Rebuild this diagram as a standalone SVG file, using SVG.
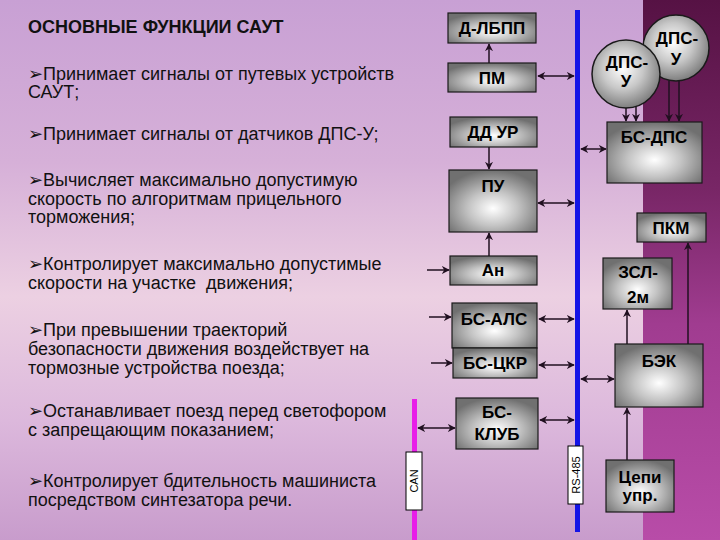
<svg xmlns="http://www.w3.org/2000/svg" width="720" height="540" viewBox="0 0 720 540">
<defs>
<linearGradient id="bg" x1="0" y1="0" x2="0" y2="1">
<stop offset="0" stop-color="#c8a0d4"/>
<stop offset="0.3" stop-color="#d6b0d8"/>
<stop offset="0.55" stop-color="#ecd0e2"/>
<stop offset="0.78" stop-color="#dcb8dc"/>
<stop offset="1" stop-color="#c89ccc"/>
</linearGradient>
<linearGradient id="strip" x1="0" y1="0" x2="0" y2="1">
<stop offset="0" stop-color="#561244"/>
<stop offset="0.35" stop-color="#782666"/>
<stop offset="0.6" stop-color="#a03c90"/>
<stop offset="1" stop-color="#b84ca8"/>
</linearGradient>
<radialGradient id="boxg" cx="50%" cy="62%" r="62%">
<stop offset="0" stop-color="#ffffff"/>
<stop offset="0.45" stop-color="#c4c4c4"/>
<stop offset="1" stop-color="#707070"/>
</radialGradient>
<radialGradient id="ballg" cx="45%" cy="42%" r="60%">
<stop offset="0" stop-color="#ffffff"/>
<stop offset="0.5" stop-color="#c8c8c8"/>
<stop offset="1" stop-color="#7a7a7a"/>
</radialGradient>
<marker id="ah" viewBox="0 0 10 10" refX="9" refY="5" markerWidth="8" markerHeight="8" orient="auto-start-reverse" markerUnits="userSpaceOnUse">
<path d="M0,0 L10,5 L0,10 L3,5 z" fill="#201020"/>
</marker>
<style>
.box{fill:url(#boxg);stroke:#1a1a1a;stroke-width:1.2}
.ball{fill:url(#ballg);stroke:#1a1a1a;stroke-width:1.5}
.bt{font-family:"Liberation Sans",Arial,sans-serif;font-weight:bold;font-size:17px;fill:#000;text-anchor:middle}
.tt{font-family:"Liberation Sans",Arial,sans-serif;font-size:18px;fill:#111}
.hd{font-family:"Liberation Sans",Arial,sans-serif;font-weight:bold;font-size:18px;fill:#111}
.lab{fill:#fff;stroke:#000;stroke-width:1}
.lt{font-family:"Liberation Sans",Arial,sans-serif;font-size:11px;fill:#000;text-anchor:middle}
.c{stroke:#201020;stroke-width:1.5;fill:none}
.d{marker-start:url(#ah);marker-end:url(#ah)}
.s{marker-end:url(#ah)}
</style>
</defs>
<rect x="0" y="0" width="720" height="540" fill="url(#bg)"/>
<rect x="643" y="0" width="77" height="540" fill="url(#strip)"/>

<g id="text">
<text class="hd" x="28" y="33">ОСНОВНЫЕ ФУНКЦИИ САУТ</text>
<text class="tt" x="28" y="80">➢Принимает сигналы от путевых устройств</text>
<text class="tt" x="28" y="98">САУТ;</text>
<text class="tt" x="28" y="140">➢Принимает сигналы от датчиков ДПС-У;</text>
<text class="tt" x="28" y="186">➢Вычисляет максимально допустимую</text>
<text class="tt" x="28" y="204.5">скорость по алгоритмам прицельного</text>
<text class="tt" x="28" y="223">торможения;</text>
<text class="tt" x="28" y="270">➢Контролирует максимально допустимые</text>
<text class="tt" x="28" y="289" xml:space="preserve">скорости на участке  движения;</text>
<text class="tt" x="28" y="336">➢При превышении траекторий</text>
<text class="tt" x="28" y="355">безопасности движения воздействует на</text>
<text class="tt" x="28" y="374">тормозные устройства поезда;</text>
<text class="tt" x="28" y="417">➢Останавливает поезд перед светофором</text>
<text class="tt" x="28" y="436">с запрещающим показанием;</text>
<text class="tt" x="28" y="487">➢Контролирует бдительность машиниста</text>
<text class="tt" x="28" y="506">посредством синтезатора речи.</text>
</g>

<g id="buses">
<rect x="575" y="10" width="5" height="522" fill="#1414e6"/>
<rect x="412" y="399" width="5" height="141" fill="#e81ee8"/>
</g>

<g id="connectors">
<path class="c s" d="M489,63 V44"/>
<path class="c d" d="M538,76 H574"/>
<path class="c s" d="M489,147 V169"/>
<path class="c d" d="M538,203 H574"/>
<path class="c s" d="M489,256 V233"/>
<path class="c s" d="M427,270 H449"/>
<path class="c s" d="M429,317 H451"/>
<path class="c d" d="M539,319 H574"/>
<path class="c s" d="M431,363 H452"/>
<path class="c d" d="M539,365 H574"/>
<path class="c d" d="M540,420 H574"/>
<path class="c d" d="M418,428 H455"/>
<path class="c d" d="M581,149 H606"/>
<path class="c d" d="M581,379 H614"/>
<path class="c s" d="M626,108 V121"/>
<path class="c s" d="M636,106 V121"/>
<path class="c s" d="M669,80 V121"/>
<path class="c s" d="M679,80 V121"/>
<path class="c s" d="M627,344 V310"/>
<path class="c s" d="M688,344 V243"/>
<path class="c s" d="M627,460 V408"/>
</g>

<g id="d-lbpp"><rect class="box" x="448" y="13" width="88" height="30"/><text class="bt" x="492" y="34">Д-ЛБПП</text></g>
<g id="pm"><rect class="box" x="448" y="63" width="88" height="29"/><text class="bt" x="492" y="84">ПМ</text></g>
<g id="dd-ur"><rect class="box" x="450" y="117" width="87" height="30"/><text class="bt" x="493" y="138">ДД УР</text></g>
<g id="pu"><rect class="box" x="449" y="170" width="88" height="62"/><text class="bt" x="493" y="192">ПУ</text></g>
<g id="an"><rect class="box" x="450" y="256" width="87" height="29"/><text class="bt" x="493" y="276">Ан</text></g>
<g id="bs-als"><rect class="box" x="452" y="303" width="85" height="45"/><text class="bt" x="494" y="325">БС-АЛС</text></g>
<g id="bs-ckr"><rect class="box" x="453" y="348" width="84" height="30"/><text class="bt" x="495" y="369">БС-ЦКР</text></g>
<g id="bs-klub"><rect class="box" x="456" y="398" width="82" height="51"/><text class="bt" x="497" y="418">БС-</text><text class="bt" x="497" y="440">КЛУБ</text></g>
<g id="dps-u-2"><circle class="ball" cx="676" cy="48" r="33"/><text class="bt" x="677" y="44">ДПС-</text><text class="bt" x="676" y="65">У</text></g>
<g id="dps-u-1"><circle class="ball" cx="626" cy="74" r="34"/><text class="bt" x="627" y="68">ДПС-</text><text class="bt" x="626" y="87">У</text></g>
<g id="bs-dps"><rect class="box" x="607" y="122" width="95" height="61"/><text class="bt" x="654" y="143">БС-ДПС</text></g>
<g id="pkm"><rect class="box" x="637" y="213" width="69" height="29"/><text class="bt" x="671" y="234">ПКМ</text></g>
<g id="zsl-2m"><rect class="box" x="603" y="258" width="69" height="51"/><text class="bt" x="638" y="278">ЗСЛ-</text><text class="bt" x="638" y="303">2м</text></g>
<g id="bek"><rect class="box" x="615" y="344" width="88" height="63"/><text class="bt" x="659" y="367">БЭК</text></g>
<g id="cepi"><rect class="box" x="606" y="460" width="68" height="52"/><text class="bt" x="640" y="483">Цепи</text><text class="bt" x="640" y="501">упр.</text></g>
<g id="can-label"><rect class="lab" x="406" y="452" width="16" height="58"/><text class="lt" transform="translate(418,481) rotate(-90)">CAN</text></g>
<g id="rs485-label"><rect class="lab" x="568" y="446" width="15" height="58"/><text class="lt" transform="translate(579.5,475) rotate(-90)">RS-485</text></g>
</svg>
